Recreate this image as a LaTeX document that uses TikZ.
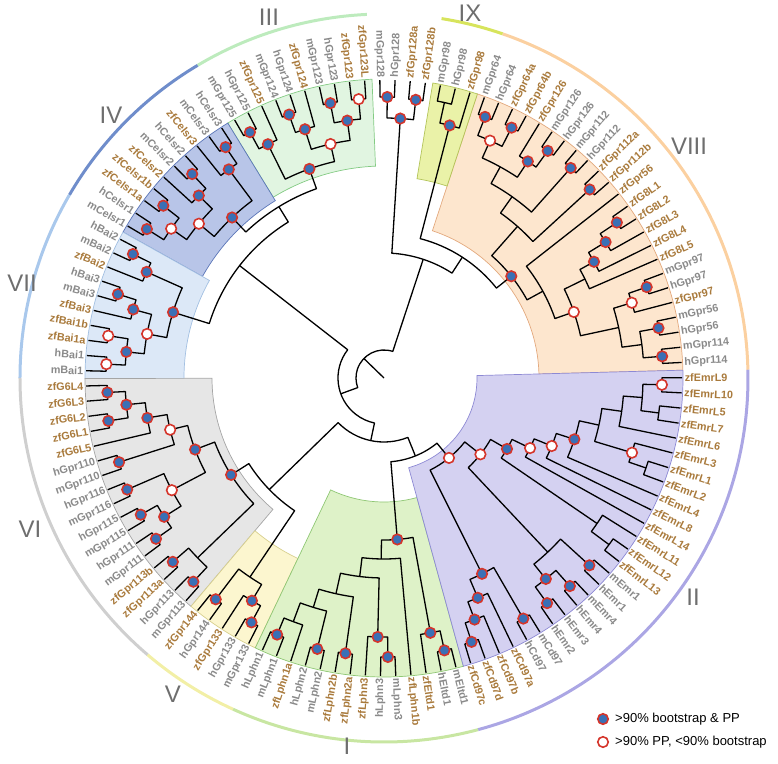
\documentclass[tikz,border=0pt]{standalone}
\usepackage{fontspec}
\setmainfont{Liberation Sans}

\definecolor{labG}{HTML}{8A8A8A}
\definecolor{labZ}{HTML}{A97A3C}
\definecolor{nodeBlue}{HTML}{3A70B6}
\definecolor{nodeRed}{HTML}{D5352B}
\definecolor{numGray}{HTML}{6E6E6E}
% clade shading (fill / border)
\definecolor{fI}{HTML}{DEF2C8}\definecolor{bI}{HTML}{8FC774}
\definecolor{fII}{HTML}{D4D1F1}\definecolor{bII}{HTML}{8D89D4}
\definecolor{fIII}{HTML}{E1F5E1}\definecolor{bIII}{HTML}{84CB84}
\definecolor{fIV}{HTML}{B8C5E8}\definecolor{bIV}{HTML}{5B76B8}
\definecolor{fV}{HTML}{FCF6CF}\definecolor{bV}{HTML}{D8D08E}
\definecolor{fVI}{HTML}{E6E6E6}\definecolor{bVI}{HTML}{A5A5A5}
\definecolor{fVII}{HTML}{DCE8F7}\definecolor{bVII}{HTML}{A3C0E2}
\definecolor{fVIII}{HTML}{FDE6CE}\definecolor{bVIII}{HTML}{E3A97E}
\definecolor{fIX}{HTML}{EAF2A8}\definecolor{bIX}{HTML}{B3C45A}
% outer ring
\definecolor{rI}{HTML}{C8E6A2}\definecolor{rII}{HTML}{ABA6E4}
\definecolor{rIII}{HTML}{BDEBBD}\definecolor{rIV}{HTML}{6F8DCB}
\definecolor{rV}{HTML}{F2EFA6}\definecolor{rVI}{HTML}{CFCFCF}
\definecolor{rVII}{HTML}{A9C8EC}\definecolor{rVIII}{HTML}{FBD0A0}
\definecolor{rIX}{HTML}{D7E45C}

\pgfdeclarelayer{front}
\pgfsetlayers{main,front}

\tikzset{
  branch/.style={line width=1.3pt, line join=round},
  leaflab/.style={font=\bfseries\fontsize{10.8}{12}\selectfont, inner sep=0.6pt},
  bmark/.style={circle, draw=nodeRed, fill=nodeBlue, line width=1.6pt, minimum size=10.5pt, inner sep=0pt},
  omark/.style={bmark, fill=white},
  ring/.style={line width=3pt},
  numeral/.style={text=numGray, font=\fontsize{24}{24}\selectfont},
  legtext/.style={font=\fontsize{13}{15}\selectfont, anchor=west, inner sep=0pt},
  secI/.style={fill=fI, draw=bI, line width=0.7pt},
  secII/.style={fill=fII, draw=bII, line width=0.7pt},
  secIII/.style={fill=fIII, draw=bIII, line width=0.7pt},
  secIV/.style={fill=fIV, draw=bIV, line width=0.7pt},
  secV/.style={fill=fV, draw=bV, line width=0.7pt},
  secVI/.style={fill=fVI, draw=bVI, line width=0.7pt},
  secVII/.style={fill=fVII, draw=bVII, line width=0.7pt},
  secVIII/.style={fill=fVIII, draw=bVIII, line width=0.7pt},
  secIX/.style={fill=fIX, draw=bIX, line width=0.7pt}
}

% leaf: index, name, colour
\newcommand\treeleaf[3]{%
  \pgfmathsetmacro\lfang{90.8-2.92683*#1}%
  \expandafter\xdef\csname ang@#2\endcsname{\lfang}%
  \coordinate (#2) at (\lfang:298pt);
  \pgfmathsetmacro\lfcos{cos(\lfang)}%
  \ifdim\lfcos pt<0pt
    \node[leaflab,text=#3,anchor=east,rotate=\lfang+180] (lab-#2) at (\lfang:300pt) {#2};%
  \else
    \node[leaflab,text=#3,anchor=west,rotate=\lfang] (lab-#2) at (\lfang:300pt) {#2};%
  \fi
}
% clade: name, child, child, radius, marker (b/o/n)
\newcommand\treeclade[5]{%
  \edef\clA{\csname ang@#2\endcsname}%
  \edef\clB{\csname ang@#3\endcsname}%
  \pgfmathsetmacro\clM{(\clA+\clB)/2}%
  \expandafter\xdef\csname ang@#1\endcsname{\clM}%
  \coordinate (#1) at (\clM:#4pt);
  \draw[branch] (#2) -- (\clA:#4pt) arc[start angle=\clA,end angle=\clB,radius=#4pt] -- (#3);
  \if#5b\begin{pgfonlayer}{front}\node[bmark] (m#1) at (#1) {};\end{pgfonlayer}\fi
  \if#5o\begin{pgfonlayer}{front}\node[omark] (m#1) at (#1) {};\end{pgfonlayer}\fi
}
\newcommand\clsector[4]{\draw[#1] (#2:#4pt) arc[start angle=#2,end angle=#3,radius=#4pt] -- (#3:299pt) arc[start angle=#3,end angle=#2,radius=299pt] -- cycle;}
\newcommand\clring[3]{\draw[ring,draw=#1] (#2:364pt) arc[start angle=#2,end angle=#3,radius=364pt];}

\begin{document}
\begin{tikzpicture}
\useasboundingbox (-384pt,-385pt) rectangle (394pt,378pt);

% shaded clades
\clsector{secVIII}{1.5}{71.8}{155}
\clsector{secIX}{71.8}{80.6}{202}
\clsector{secIII}{92.3}{121.5}{212}
\clsector{secIV}{121.5}{150.8}{208}
\clsector{secVII}{150.8}{180.1}{200}
\clsector{secVI}{180.1}{229.8}{172}
\clsector{secV}{229.8}{244.5}{200}
\clsector{secI}{244.5}{285.4}{124}
\clsector{secII}{285.4}{361.5}{93}

% outer ring
\clring{rVIII}{1.3}{71}
\clring{rIX}{71}{80.9}
\clring{rIII}{92.7}{120.8}
\clring{rIV}{120.8}{149.8}
\clring{rVII}{149.8}{180}
\clring{rVI}{180}{229.5}
\clring{rV}{229.5}{245.5}
\clring{rI}{245.5}{285}
\clring{rII}{285}{361.3}

\node[numeral] (nIII) at (-115pt,361pt) {III};
\node[numeral] (nIV) at (-273pt,263pt) {IV};
\node[numeral] (nVII) at (-362pt,95pt) {VII};
\node[numeral] (nVI) at (-354pt,-151pt) {VI};
\node[numeral] (nV) at (-211pt,-316pt) {V};
\node[numeral] (nI) at (-37pt,-368pt) {I};
\node[numeral] (nII) at (309pt,-219pt) {II};
\node[numeral] (nVIII) at (305pt,232pt) {VIII};
\node[numeral] (nIX) at (86pt,365pt) {IX};

% leaves, clockwise from the top
\foreach \nm/\cl [count=\ix from 0] in {
  mGpr128/labG, hGpr128/labG, zfGpr128a/labZ, zfGpr128b/labZ,
  mGpr98/labG, hGpr98/labG, zfGpr98/labZ,
  mGpr64/labG, hGpr64/labG, zfGpr64a/labZ, zfGpr64b/labZ, zfGpr126/labZ, mGpr126/labG, hGpr126/labG,
  mGpr112/labG, hGpr112/labG, zfGpr112a/labZ, zfGpr112b/labZ, zfGpr56/labZ,
  zfG8L1/labZ, zfG8L2/labZ, zfG8L3/labZ, zfG8L4/labZ, zfG8L5/labZ,
  mGpr97/labG, hGpr97/labG, zfGpr97/labZ, mGpr56/labG, hGpr56/labG, mGpr114/labG, hGpr114/labG,
  zfEmrL9/labZ, zfEmrL10/labZ, zfEmrL5/labZ, zfEmrL7/labZ, zfEmrL6/labZ, zfEmrL3/labZ, zfEmrL1/labZ,
  zfEmrL2/labZ, zfEmrL4/labZ, zfEmrL8/labZ, zfEmrL14/labZ, zfEmrL11/labZ, zfEmrL12/labZ, zfEmrL13/labZ,
  mEmr1/labG, hEmr1/labG, mEmr4/labG, hEmr4/labG, hEmr3/labG, hEmr2/labG, mCd97/labG, hCd97/labG,
  zfCd97a/labZ, zfCd97b/labZ, zfCd97d/labZ, zfCd97c/labZ,
  mEltd1/labG, hEltd1/labG, zfEltd1/labZ, zfLphn1b/labZ, mLphn3/labG, hLphn3/labG, zfLphn3/labZ,
  zfLphn2a/labZ, zfLphn2b/labZ, mLphn2/labG, hLphn2/labG, zfLphn1a/labZ, mLphn1/labG, hLphn1/labG,
  mGpr133/labG, hGpr133/labG, zfGpr133/labZ, hGpr144/labG, zfGpr144/labZ,
  mGpr113/labG, hGpr113/labG, zfGpr113a/labZ, zfGpr113b/labZ, mGpr111/labG, hGpr111/labG,
  mGpr115/labG, hGpr115/labG, mGpr116/labG, hGpr116/labG, mGpr110/labG, hGpr110/labG,
  zfG6L5/labZ, zfG6L1/labZ, zfG6L2/labZ, zfG6L3/labZ, zfG6L4/labZ,
  mBai1/labG, hBai1/labG, zfBai1a/labZ, zfBai1b/labZ, zfBai3/labZ, mBai3/labG, hBai3/labG,
  zfBai2/labZ, mBai2/labG, hBai2/labG,
  mCelsr1/labG, hCelsr1/labG, zfCelsr1a/labZ, zfCelsr1b/labZ, zfCelsr2/labZ, mCelsr2/labG, hCelsr2/labG,
  zfCelsr3/labZ, mCelsr3/labG, hCelsr3/labG,
  mGpr125/labG, hGpr125/labG, zfGpr125/labZ, mGpr124/labG, hGpr124/labG, zfGpr124/labZ,
  mGpr123/labG, hGpr123/labG, zfGpr123/labZ, zfGpr123L/labZ}
  {\treeleaf{\ix}{\nm}{\cl}}

% clades, children first
\foreach \nd/\ka/\kb/\rr/\mk in {
  T01/mGpr128/hGpr128/281/b, T23/zfGpr128a/zfGpr128b/280/b, T4/T01/T23/260/b,
  IX45/mGpr98/hGpr98/282/n, IX/IX45/zfGpr98/261/b,
  v78/mGpr64/hGpr64/280/b, v910/zfGpr64a/zfGpr64b/281/b, N1/v78/v910/260/o,
  v1213/mGpr126/hGpr126/280/b, N2/zfGpr126/v1213/260/b, N3/N1/N2/241/n,
  v1415/mGpr112/hGpr112/281/b, N4/N3/v1415/222/n,
  v1617/zfGpr112a/zfGpr112b/279/b, N5/N4/v1617/202/n,
  v1920/zfG8L1/zfG8L2/280/b, v21/v1920/zfG8L3/260/b, v22/v21/zfG8L4/240/b, S/v22/zfG8L5/224/n,
  v2425/mGpr97/hGpr97/278/b, v26/v2425/zfGpr97/259/o,
  v2728/mGpr56/hGpr56/279/b, v2930/mGpr114/hGpr114/279/b, Q/v2728/v2930/260/n,
  P/v26/Q/240/n, O/S/P/201/o, N6/zfGpr56/O/181/n, VIII/N5/N6/163/b,
  B/IX/VIII/144/n, A/T4/B/125/n,
  e3132/zfEmrL9/zfEmrL10/278/o, e3334/zfEmrL5/zfEmrL7/277/n, e4/e3132/e3334/259/n, e5/e4/zfEmrL6/240/n,
  e3738/zfEmrL1/zfEmrL2/277/n, e36/zfEmrL3/e3738/259/o, e6/e5/e36/220/n, e7/e6/zfEmrL4/200/b,
  e8/e7/zfEmrL8/181/o, e9/e8/zfEmrL14/162/o,
  e4344/zfEmrL12/zfEmrL13/280/n, e42/zfEmrL11/e4344/258/n, e10/e9/e42/142/b,
  m4546/mEmr1/hEmr1/278/b, m4748/mEmr4/hEmr4/279/b, m4950/hEmr3/hEmr2/278/b, m4/m4748/m4950/258/b,
  Emr/m4546/m4/239/n, e11/e10/Emr/123/o,
  c5152/mCd97/hCd97/278/b, c5556/zfCd97d/zfCd97c/278/b, c54/zfCd97b/c5556/258/b, c53/zfCd97a/c54/239/b,
  Cd/c5152/c53/219/b, II/e11/Cd/103/o,
  l5758/mEltd1/hEltd1/279/b, l59/l5758/zfEltd1/259/b,
  l6162/mLphn3/hLphn3/279/b, l63/l6162/zfLphn3/259/b,
  l6465/zfLphn2a/zfLphn2b/278/b, l6667/mLphn2/hLphn2/279/b, l6970/mLphn1/hLphn1/278/b,
  Z2/zfLphn1a/l6970/260/n, Z/l6667/Z2/240/n, Y/l6465/Z/221/n, Lr/l63/Y/200/n, Lg/zfLphn1b/Lr/181/n,
  I/l59/Lg/162/b,
  g7172/mGpr133/hGpr133/278/b, g73/g7172/zfGpr133/259/b, g7475/hGpr144/zfGpr144/278/b, V/g73/g7475/240/n,
  s7677/mGpr113/hGpr113/279/b, s7879/zfGpr113a/zfGpr113b/280/b, W/s7677/s7879/259/n,
  s8081/mGpr111/hGpr111/279/b, s8283/mGpr115/hGpr115/279/b, s8/s8081/s8283/260/b,
  s8485/mGpr116/hGpr116/280/b, s9/s8/s8485/240/o,
  s8687/mGpr110/hGpr110/278/b, s8990/zfG6L1/zfG6L2/279/b, s9192/zfG6L3/zfG6L4/277/b,
  s10/s8990/s9192/259/b, s11/zfG6L5/s10/240/b, s12/s8687/s11/220/o,
  V2/s9/s12/202/b, VI/W/V2/181/b,
  D/VI/V/160/n, E/I/II/84/n, C/D/E/64/n,
  b9394/mBai1/hBai1/278/o, b9596/zfBai1a/zfBai1b/279/o, b1/b9394/b9596/259/b,
  b9899/mBai3/hBai3/279/b, b97/zfBai3/b9899/260/b, b2/b1/b97/241/o,
  b101/mBai2/hBai2/280/b, b100/zfBai2/b101/260/b, VII/b2/b100/221/b,
  k103/mCelsr1/hCelsr1/280/b, k105/zfCelsr1a/zfCelsr1b/280/b, k1/k103/k105/260/o,
  k108/mCelsr2/hCelsr2/280/b, k107/zfCelsr2/k108/260/b, k2/k1/k107/241/o,
  k111/mCelsr3/hCelsr3/280/b, k110/zfCelsr3/k111/260/b, IV/k2/k110/221/b,
  p113/mGpr125/hGpr125/280/b, p115/p113/zfGpr125/261/b,
  p116/mGpr124/hGpr124/280/b, p118/p116/zfGpr124/261/b,
  p119/mGpr123/hGpr123/280/b, p121/zfGpr123/zfGpr123L/280/o, p3/p119/p121/260/b,
  p2/p118/p3/240/o, III/p115/p2/222/b,
  H/IV/III/201/n, G/VII/H/183/n, F/G/C/46/n}
  {\treeclade{\nd}{\ka}{\kb}{\rr}{\mk}}

% root
\edef\rtA{\csname ang@A\endcsname}
\pgfmathsetmacro\rtF{\csname ang@F\endcsname+360}
\pgfmathsetmacro\rtM{(\rtA+\rtF)/2}
\coordinate (root) at (0pt,0pt);
\draw[branch] (A) -- (\rtA:28pt) arc[start angle=\rtA,end angle=\rtF,radius=28pt] -- (F);
\draw[branch] (root) -- (\rtM:28pt);

% legend
\node[bmark] (legB) at (219pt,-341pt) {};
\node[legtext] (legBt) at (231pt,-341pt) {>90\% bootstrap \& PP};
\node[omark] (legO) at (219pt,-364pt) {};
\node[legtext] (legOt) at (231pt,-364pt) {>90\% PP, <90\% bootstrap};
\end{tikzpicture}
\end{document}
